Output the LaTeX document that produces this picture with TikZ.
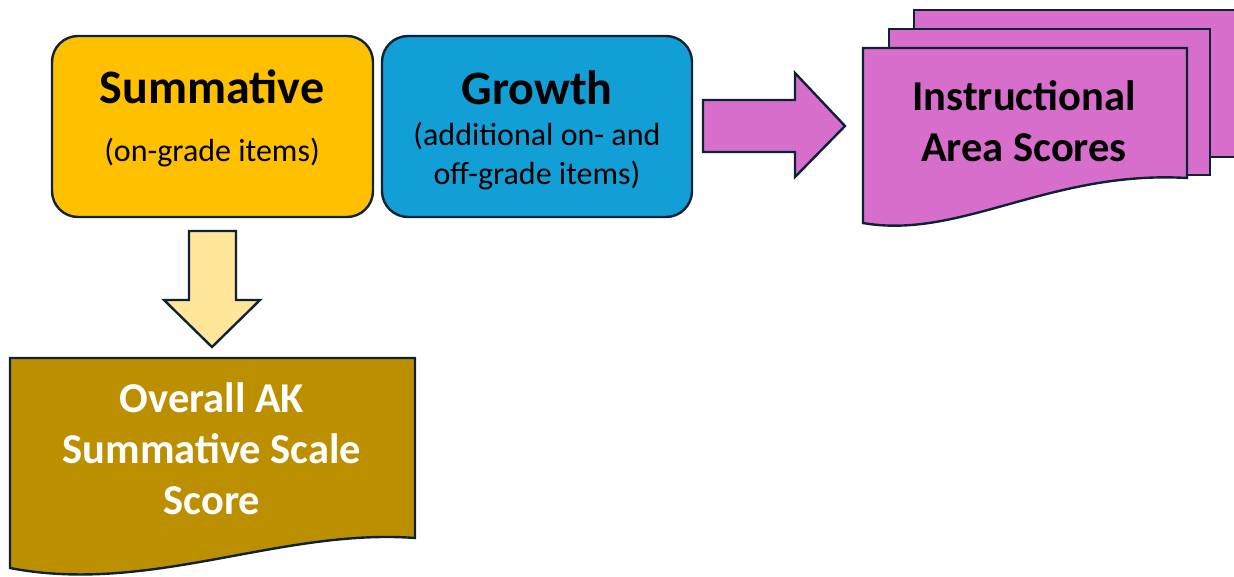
\documentclass[tikz,border=0pt]{standalone}
\usepackage{fontspec}
\setmainfont{Carlito}
\definecolor{outl}{HTML}{0E2236}
\definecolor{gold}{HTML}{FFC000}
\definecolor{blueg}{HTML}{129FD6}
\definecolor{pinkd}{HTML}{D86ECC}
\definecolor{lightgold}{HTML}{FFE699}
\definecolor{darkgold}{HTML}{BC8F00}
\begin{document}
\begin{tikzpicture}[x=1pt,y=-1pt,
  box/.style={draw=outl, line width=2.4pt, rounded corners=26pt, inner sep=0pt},
  shp/.style={draw=outl, line width=2.4pt, line join=miter},
  big/.style={font=\bfseries\fontsize{48}{52}\selectfont, inner sep=0pt},
  small/.style={font=\fontsize{32}{39}\selectfont, align=center, inner sep=0pt},
  doctext/.style={font=\bfseries\fontsize{42.5}{51}\selectfont, align=center, inner sep=0pt}]
\useasboundingbox (0,0) rectangle (1234,576);
% top boxes
\node[box, fill=gold, minimum width=321pt, minimum height=181pt] (summ) at (212.5,126.5) {};
\node[box, fill=blueg, minimum width=310pt, minimum height=181pt] (grow) at (537,126.5) {};
\node[big] (summt) at (212,87) {Summative};
\node[small] (summs) at (212,153) {(on-grade items)};
\node[big] (growt) at (537,88) {Growth};
\node[small] (grows) at (537,156) {(additional on- and\\off-grade items)};
% right block arrow
\draw[shp, fill=pinkd] (703,100) -- (795,100) -- (795,73) -- (845,126) -- (795,177) -- (795,152) -- (703,152) -- cycle;
% down block arrow
\draw[shp, fill=lightgold] (189,231) -- (236,231) -- (236,300) -- (260,300) -- (212,347) -- (164,300) -- (189,300) -- cycle;
% multi document
\draw[shp, fill=pinkd] (914,10) rectangle (1245,157);
\draw[shp, fill=pinkd] (889,29) rectangle (1210,175);
\draw[shp, fill=pinkd] (863,48) -- (1187,48) -- (1187,178) .. controls (1050,170) and (960,240) .. (863,223) -- cycle;
\node[doctext] (inst) at (1024,121) {Instructional\\Area Scores};
% overall document
\draw[shp, fill=darkgold] (10,358) -- (415,358) -- (415,538) .. controls (280,528) and (150,595) .. (10,568) -- cycle;
\node[doctext, text=white] (over) at (212,449) {Overall AK\\Summative Scale\\Score};
\end{tikzpicture}
\end{document}
